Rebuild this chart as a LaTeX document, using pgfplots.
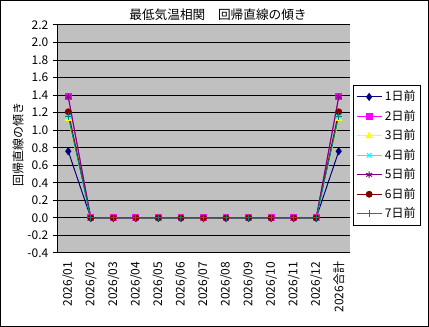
\documentclass[border=0pt]{standalone}
\usepackage{pgfplots}
\usepackage{pgfplotstable}
\pgfplotsset{compat=1.18}
\usepackage{fontspec}
\setmainfont{Noto Sans CJK JP}
\definecolor{bgGray}{HTML}{C0C0C0}
\definecolor{cNavy}{HTML}{000080}
\definecolor{cMag}{HTML}{FF00FF}
\definecolor{cYel}{HTML}{FFFF00}
\definecolor{cCyan}{HTML}{00FFFF}
\definecolor{cPur}{HTML}{800080}
\definecolor{cMar}{HTML}{800000}
\definecolor{cTeal}{HTML}{008080}
\pgfplotstableread{
x a b c d e f g
0 0.76 1.38 1.13 1.16 1.38 1.21 1.16
1 0 0 0 0 0 0 0
2 0 0 0 0 0 0 0
3 0 0 0 0 0 0 0
4 0 0 0 0 0 0 0
5 0 0 0 0 0 0 0
6 0 0 0 0 0 0 0
7 0 0 0 0 0 0 0
8 0 0 0 0 0 0 0
9 0 0 0 0 0 0 0
10 0 0 0 0 0 0 0
11 0 0 0 0 0 0 0
12 0.76 1.38 1.13 1.16 1.38 1.21 1.16
}\datatable
\begin{document}
\begin{tikzpicture}
\path[use as bounding box] (0,0) rectangle (321.75pt,245.25pt);
\draw[line width=0.75pt] (0.375pt,0.375pt) rectangle (321.375pt,244.875pt);
\node[font=\fontsize{9.5}{11}\selectfont] at (163.5pt,234pt) {最低気温相関　回帰直線の傾き};
\node[font=\fontsize{9}{10}\selectfont, rotate=90] at (13.5pt,136.5pt) {回帰直線の傾き};
\begin{axis}[
  at={(42.75pt,55.5pt)}, anchor=south west,
  scale only axis, width=219.75pt, height=171pt,
  xmin=-0.5, xmax=12.5, ymin=-0.4, ymax=2.2,
  axis background/.style={fill=bgGray},
  axis x line*=bottom, axis y line*=left,
  axis line style={black, line width=0.75pt, -},
  ytick={-0.4,-0.2,0,0.2,0.4,0.6,0.8,1.0,1.2,1.4,1.6,1.8,2.0,2.2},
  yticklabel style={/pgf/number format/.cd, fixed, fixed zerofill, precision=1, assume math mode=true},
  ymajorgrids, grid style={black, line width=0.75pt},
  tick align=outside, major tick length=3pt,
  tick style={black, line width=0.75pt},
  xtick={0,...,12},
  xticklabels={2026/01,2026/02,2026/03,2026/04,2026/05,2026/06,2026/07,2026/08,2026/09,2026/10,2026/11,2026/12,2026合計},
  x tick label style={rotate=90, anchor=east},
  xtick style={draw=none},
  extra x ticks={-0.5,0.5,1.5,2.5,3.5,4.5,5.5,6.5,7.5,8.5,9.5,10.5,11.5,12.5},
  extra x tick labels={},
  extra x tick style={tick style={black, line width=0.75pt}, major tick length=3pt, xmajorgrids=false},
  ticklabel style={font=\fontsize{9}{10}\selectfont},
  every axis plot/.append style={line width=0.75pt},
  legend style={at={(1.0102,0.7368)}, anchor=north west, draw=black, line width=0.75pt,
    font=\fontsize{9}{10}\selectfont, row sep=1.5pt, inner sep=2pt, cells={anchor=west}},
  legend image code/.code={\draw[mark repeat=2,mark phase=2] plot coordinates {(0cm,0cm) (0.33cm,0cm) (0.66cm,0cm)};},
]
\addplot[cNavy, mark=diamond*, mark size=2.5pt] table[x=x,y=a] {\datatable};
\addlegendentry{1日前}
\addplot[cMag, mark=square*, mark size=2.2pt] table[x=x,y=b] {\datatable};
\addlegendentry{2日前}
\addplot[cYel, mark=triangle*, mark size=2.5pt] table[x=x,y=c] {\datatable};
\addlegendentry{3日前}
\addplot[cCyan, mark=x, mark size=2.5pt] table[x=x,y=d] {\datatable};
\addlegendentry{4日前}
\addplot[cPur, mark=asterisk, mark size=2.5pt] table[x=x,y=e] {\datatable};
\addlegendentry{5日前}
\addplot[cMar, mark=*, mark size=2.2pt] table[x=x,y=f] {\datatable};
\addlegendentry{6日前}
\addplot[cTeal, mark=+, mark size=2.5pt] table[x=x,y=g] {\datatable};
\addlegendentry{7日前}
\end{axis}
\end{tikzpicture}
\end{document}
